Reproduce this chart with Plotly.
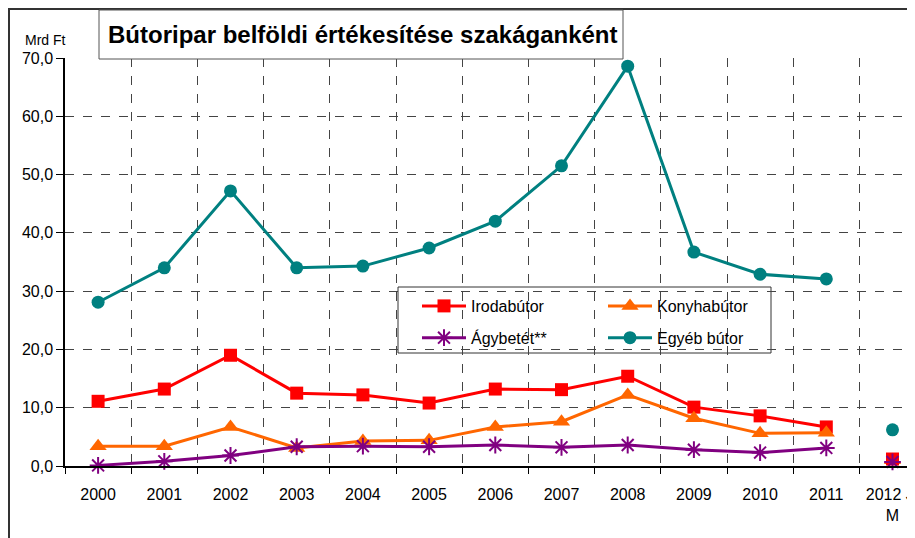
import plotly.graph_objects as go

# data (Mrd Ft)
years = ['2000', '2001', '2002', '2003', '2004', '2005', '2006',
         '2007', '2008', '2009', '2010', '2011']
tick_labels = years + ['2012 J-<br>M']

irodabutor = [11.1, 13.2, 19.0, 12.5, 12.2, 10.8, 13.2, 13.1, 15.4, 10.1, 8.6, 6.7]
konyhabutor = [3.4, 3.4, 6.7, 3.1, 4.3, 4.4, 6.7, 7.6, 12.2, 8.2, 5.6, 5.7]
agybetet = [0.1, 0.8, 1.8, 3.3, 3.4, 3.3, 3.6, 3.2, 3.6, 2.8, 2.3, 3.1]
egyeb_butor = [28.1, 34.0, 47.2, 34.0, 34.3, 37.4, 42.0, 51.5, 68.6, 36.7, 32.9, 32.1]

# 2012 first quarter (not connected to the yearly lines)
irodabutor_2012 = 1.2
konyhabutor_2012 = 1.0
agybetet_2012 = 0.7
egyeb_butor_2012 = 6.2

title_text = 'Bútoripar belföldi értékesítése szakáganként'
unit_text = 'Mrd Ft'

FONT = 'Liberation Sans, Arial, sans-serif'

series = [
    # name, values, q1 2012, colour, symbol, size, legend
    ('Irodabútor', irodabutor, irodabutor_2012, '#FF0000', 'square', 13, 'legend'),
    ('Konyhabútor', konyhabutor, konyhabutor_2012, '#FF6600', 'triangle-up', 15, 'legend2'),
    ('Ágybetét**', agybetet, agybetet_2012, '#800080', 'asterisk-open', 14, 'legend'),
    ('Egyéb bútor', egyeb_butor, egyeb_butor_2012, '#008080', 'circle', 13, 'legend2'),
]

x_years = list(range(len(years)))
x_2012 = len(years)


def make_marker(symbol, size, colour):
    marker = dict(symbol=symbol, size=size, color=colour)
    if symbol.startswith('asterisk'):
        marker['line'] = dict(color=colour, width=2)
    return marker


fig = go.Figure()

# 2012 markers first; the triangle sits under the square, asterisk on top
for i in [1, 0, 2, 3]:
    name, vals, q1, colour, symbol, size, leg = series[i]
    fig.add_trace(go.Scatter(x=[x_2012], y=[q1], mode='markers',
                             marker=make_marker(symbol, size, colour),
                             legendgroup=name, showlegend=False, hoverinfo='y',
                             cliponaxis=False))

for name, vals, q1, colour, symbol, size, leg in series:
    fig.add_trace(go.Scatter(
        x=x_years, y=vals, name=name, mode='lines+markers',
        line=dict(color=colour, width=3), marker=make_marker(symbol, size, colour),
        legend=leg, legendgroup=name, cliponaxis=False,
    ))

# the page body has an 8px margin, so work in screen pixels and shift
OFF = 8
W, H = 915 - OFF, 538 - OFF
# plot area on screen: left 65, right 915, top 58, bottom 466
L, R, T, B = 65, 915, 58, 466


def px(x):
    return (x - L) / (R - L)


def py(y):
    return (B - y) / (B - T)


shapes = [
    # outer chart frame (only top and left edges visible)
    dict(type='rect', xref='paper', yref='paper', x0=px(9), x1=px(990),
         y0=py(600), y1=py(9), line=dict(color='#333333', width=2), layer='above'),
    # title box
    dict(type='rect', xref='paper', yref='paper', x0=px(99), x1=px(623),
         y0=py(59), y1=py(10), line=dict(color='#555555', width=1),
         fillcolor='white', layer='above'),
    # legend frame
    dict(type='rect', xref='paper', yref='paper', x0=px(398), x1=px(771),
         y0=py(353), y1=py(287), line=dict(color='#333333', width=1),
         fillcolor='white', layer='below'),
]

annotations = [
    dict(text='<b>' + title_text + '</b>', xref='paper', yref='paper',
         x=px(363), y=py(35), xanchor='center', yanchor='middle', showarrow=False,
         font=dict(family=FONT, size=24, color='black')),
    dict(text=unit_text, xref='paper', yref='paper', x=px(45), y=py(40),
         xanchor='center', yanchor='middle', showarrow=False,
         font=dict(family=FONT, size=14, color='black')),
]

legend_style = dict(xanchor='left', yanchor='top', bgcolor='rgba(0,0,0,0)',
                    tracegroupgap=8, itemwidth=44,
                    font=dict(family=FONT, size=16))

fig.update_layout(
    width=W, height=H,
    margin=dict(l=L - OFF, r=915 - R, t=T - OFF, b=538 - B),
    paper_bgcolor='white', plot_bgcolor='white',
    separators=', ',
    font=dict(family=FONT, size=16, color='black'),
    shapes=shapes,
    annotations=annotations,
    legend=dict(x=px(417), y=py(289), **legend_style),
    legend2=dict(x=px(603), y=py(289), **legend_style),
    xaxis=dict(
        range=[-0.5, (R - L) / 66.2 - 0.5], tickmode='array',
        tickvals=list(range(len(tick_labels))), ticktext=tick_labels,
        ticks='', showgrid=False, zeroline=False, automargin=False,
        showline=True, linecolor='black', linewidth=1.5,
        tickfont=dict(size=16), ticklabelstandoff=13,
        ticklabeloverflow='allow',
        minor=dict(tick0=0.5, dtick=1, ticks='outside', ticklen=6,
                   tickcolor='black', showgrid=True, gridcolor='#444444',
                   griddash='dash', gridwidth=1),
    ),
    yaxis=dict(
        range=[0, 70], dtick=10, tickformat='.1f', automargin=False,
        ticks='outside', ticklen=7, tickcolor='black',
        showline=True, linecolor='black', linewidth=1.5,
        showgrid=True, gridcolor='#444444', griddash='dash', gridwidth=1,
        zeroline=False, tickfont=dict(size=16),
    ),
    showlegend=True,
)

fig.write_html('out.html')
